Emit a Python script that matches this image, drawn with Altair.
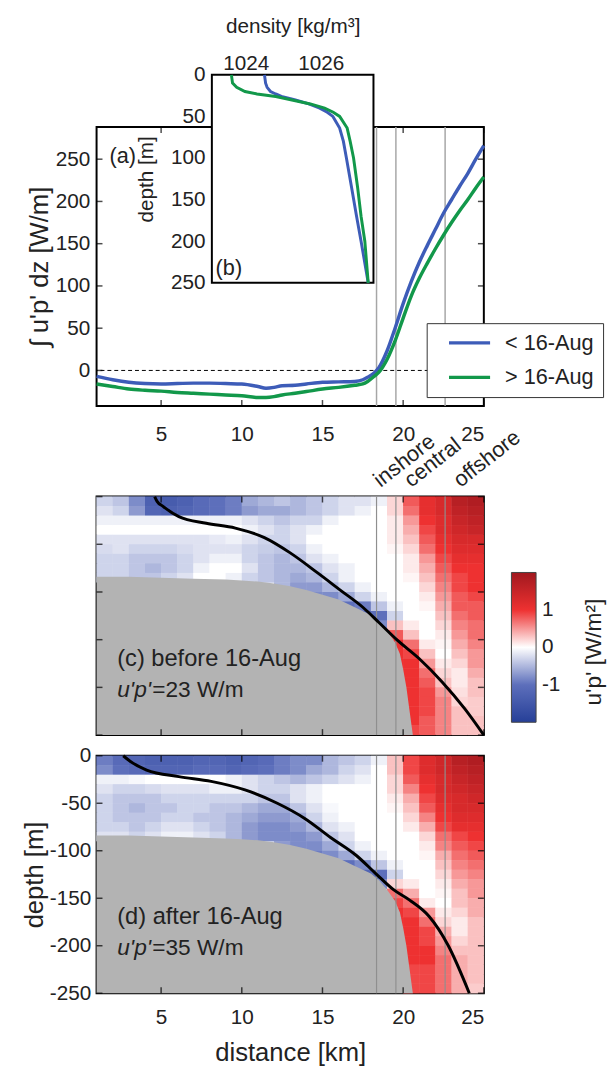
import altair as alt
import pandas as pd

FONT = "Liberation Sans"
TXT = "#222222"

# ---------------- data ----------------
PERIODS = ["< 16-Aug", "> 16-Aug"]
PERIOD_COLORS = ["#3d5cb8", "#12984a"]

# (a) depth-integrated flux vs distance
KM_A = [1, 2, 3, 4, 5, 6, 7, 8, 9, 10, 11, 11.5, 12, 12.5, 13.3, 14, 15, 16, 17,
        17.5, 17.8, 18.2, 18.5, 19, 19.5, 20, 20.5, 21, 21.5, 22, 22.5, 23, 23.5,
        24, 24.5, 25]
FLUX_BEFORE = [-7, -11, -14, -15.5, -16, -15.5, -15, -15, -15.5, -16, -19, -21, -20,
               -18, -17.5, -16, -14, -13.5, -13, -11, -8, -3, 3.5, 23, 50, 79, 105,
               128, 148, 167, 186, 202, 218, 233, 250, 266]
FLUX_AFTER = [-16, -19, -22, -23.5, -24.5, -26, -27, -28, -29, -30, -32, -32, -31,
              -29, -27, -25, -22, -20, -17.5, -16, -13, -7, -2, 13, 35, 62, 88,
              109, 127, 144, 160, 175, 189, 202, 216, 229]

# (b) density profiles
DEPTH_B = [0, 10, 15, 20, 23, 26, 30, 35, 40, 45, 50, 64, 80, 100, 136, 170, 200, 250]
RHO_BEFORE = [1024.5, 1024.53, 1024.57, 1024.66, 1024.8, 1024.95, 1025.3, 1025.68,
              1025.97, 1026.17, 1026.32, 1026.5, 1026.6, 1026.68, 1026.82, 1026.95,
              1027.07, 1027.26]
RHO_AFTER = [1023.62, 1023.65, 1023.76, 1023.98, 1024.3, 1024.8, 1025.2, 1025.72,
             1026.1, 1026.33, 1026.5, 1026.7, 1026.78, 1026.87, 1026.98, 1027.07,
             1027.17, 1027.26]
RHO_DOMAIN = [1023.1, 1027.4]
DEPTH_DOMAIN_B = [0, 250]

REGION_KM = [18.35, 19.55, 22.6]
REGION_LABELS = ["inshore", "central", "offshore"]
REGION_LABEL_KM = [18.6, 20.5, 23.55]

# bathymetry (depth of sea floor, m)
BATHY_KM = [1, 3, 5, 7, 9, 10, 11, 12, 13, 14, 15, 16, 17, 18, 18.5, 19, 19.5, 19.8,
            20, 20.2, 20.4, 20.6]
BATHY_DEPTH = [84, 84, 85, 86, 87, 88, 89, 91, 94, 98, 103, 108, 116, 124, 131, 141,
               153, 165, 181, 200, 225, 250]

# black density-interface curves
CURVE_C_KM = [4.6, 4.75, 5.1, 6.1, 7.8, 9.6, 11.4, 13.0, 14.7, 16.1, 17.5, 18.5, 19.6,
              21.0, 22.4, 23.8, 25.0]
CURVE_C_DEPTH = [0, 5, 10, 21, 28, 33, 43, 59, 80, 98, 116, 132, 150, 170, 194, 222, 250]
CURVE_D_KM = [2.65, 3.1, 4.1, 6.1, 8.1, 10.2, 12.2, 13.9, 15.5, 17.1, 18.3, 19.4, 20.4,
              21.6, 22.8, 24.1]
CURVE_D_DEPTH = [0, 6, 15, 22, 27, 36, 50, 66, 86, 105, 124, 141, 152, 169, 200, 250]

# gridded u'p' (W/m^2): rows = 10 m depth bins, columns = 1 km bins
COL_EDGES = [1, 2, 3, 4, 5, 6, 7, 8, 9, 10, 11, 12, 13, 14, 15, 16, 17, 18, 19, 20,
             21, 22, 23, 24, 25]
ROW_EDGES = [0, 10, 20, 30, 40, 50, 60, 70, 80, 90, 100, 110, 120, 130, 140, 150, 160,
             170, 180, 190, 200, 210, 220, 230, 240, 250]
N = None
FLUX_C = [
    [-0.3, -0.4, -0.8, -1.3, -1.4, -1.3, -1.1, -1.0, -0.9, -0.6, -0.5, -0.4, -0.5, -0.4, -0.3, -0.2, -0.2, -0.1, 0.2, 0.8, 1.1, 1.3, 1.7, 1.8],
    [-0.2, -0.3, -0.7, -1.2, -1.3, -1.2, -1.1, -1.0, -0.9, -0.7, -0.6, -0.6, -0.5, -0.4, -0.3, -0.2, -0.1, 0.0, 0.2, 0.7, 1.1, 1.3, 1.6, 1.7],
    [-0.1, -0.1, -0.1, -0.1, -0.1, -0.1, -0.1, -0.1, -0.1, -0.2, -0.3, -0.4, -0.3, -0.3, -0.1, 0.0, 0.0, 0.0, 0.1, 0.5, 1.0, 1.2, 1.5, 1.6],
    [0.0, 0.0, 0.0, 0.0, 0.0, 0.0, 0.0, 0.0, 0.0, -0.1, -0.2, -0.3, -0.2, -0.1, 0.0, 0.0, 0.0, 0.0, 0.1, 0.4, 0.9, 1.2, 1.4, 1.5],
    [-0.2, -0.2, -0.2, -0.2, -0.2, -0.2, -0.2, -0.15, -0.1, -0.2, -0.3, -0.3, -0.2, 0.0, 0.0, 0.0, 0.0, 0.0, 0.1, 0.3, 0.8, 1.1, 1.3, 1.3],
    [-0.25, -0.2, -0.3, -0.3, -0.3, -0.25, -0.2, -0.2, -0.2, -0.3, -0.35, -0.4, -0.3, -0.1, 0.0, 0.0, 0.0, 0.0, 0.05, 0.2, 0.7, 1.0, 1.2, 1.2],
    [-0.3, -0.3, -0.4, -0.4, -0.4, -0.3, -0.2, -0.1, -0.1, -0.3, -0.4, -0.5, -0.4, -0.2, -0.1, 0.0, 0.0, 0.0, 0.0, 0.1, 0.5, 0.9, 1.1, 1.1],
    [-0.3, -0.3, -0.4, -0.5, -0.4, -0.3, -0.1, 0.0, 0.0, -0.2, -0.4, -0.5, -0.5, -0.4, -0.2, -0.1, 0.0, 0.0, 0.0, 0.1, 0.4, 0.8, 1.0, 1.0],
    [-0.3, -0.3, -0.4, -0.4, -0.3, -0.2, 0.0, 0.0, -0.1, -0.3, -0.4, -0.5, -0.6, -0.5, -0.3, -0.1, 0.0, 0.0, 0.0, 0.05, 0.3, 0.7, 0.9, 1.0],
    [N, N, N, N, N, N, N, N, N, N, N, -0.5, -0.7, -0.7, -0.5, -0.3, -0.1, 0.0, 0.0, 0.0, 0.2, 0.6, 0.9, 1.0],
    [N, N, N, N, N, N, N, N, N, N, N, N, N, -0.8, -0.8, -0.6, -0.3, -0.1, 0.0, 0.0, 0.1, 0.5, 0.8, 0.9],
    [N, N, N, N, N, N, N, N, N, N, N, N, N, N, N, -1.0, -0.9, -0.4, -0.1, 0.0, 0.05, 0.4, 0.8, 0.8],
    [N, N, N, N, N, N, N, N, N, N, N, N, N, N, N, N, -1.2, -1.0, -0.3, 0.0, 0.0, 0.3, 0.7, 0.8],
    [N, N, N, N, N, N, N, N, N, N, N, N, N, N, N, N, N, -0.8, 0.3, 0.1, 0.0, 0.2, 0.6, 0.7],
    [N, N, N, N, N, N, N, N, N, N, N, N, N, N, N, N, N, N, 0.8, 0.3, 0.0, 0.1, 0.5, 0.7],
    [N, N, N, N, N, N, N, N, N, N, N, N, N, N, N, N, N, N, 1.0, 0.7, 0.1, 0.05, 0.4, 0.6],
    [N, N, N, N, N, N, N, N, N, N, N, N, N, N, N, N, N, N, 1.0, 0.9, 0.3, 0.0, 0.3, 0.5],
    [N, N, N, N, N, N, N, N, N, N, N, N, N, N, N, N, N, N, 1.0, 1.0, 0.5, 0.1, 0.2, 0.5],
    [N, N, N, N, N, N, N, N, N, N, N, N, N, N, N, N, N, N, 1.0, 1.0, 0.7, 0.2, 0.1, 0.4],
    [N, N, N, N, N, N, N, N, N, N, N, N, N, N, N, N, N, N, N, 1.0, 0.8, 0.3, 0.1, 0.3],
    [N, N, N, N, N, N, N, N, N, N, N, N, N, N, N, N, N, N, N, 1.0, 0.9, 0.5, 0.15, 0.3],
    [N, N, N, N, N, N, N, N, N, N, N, N, N, N, N, N, N, N, N, 1.0, 0.9, 0.6, 0.2, 0.25],
    [N, N, N, N, N, N, N, N, N, N, N, N, N, N, N, N, N, N, N, 1.0, 0.9, 0.6, 0.3, 0.25],
    [N, N, N, N, N, N, N, N, N, N, N, N, N, N, N, N, N, N, N, 1.0, 0.8, 0.6, 0.3, 0.3],
    [N, N, N, N, N, N, N, N, N, N, N, N, N, N, N, N, N, N, N, 0.9, 0.8, 0.6, 0.3, 0.3],
]
FLUX_D = [
    [-0.9, -1.1, -1.2, -1.3, -1.3, -1.3, -1.2, -1.2, -1.3, -1.2, -1.1, -0.9, -0.8, -0.8, -0.5, -0.4, -0.3, -0.1, 0.3, 0.9, 1.2, 1.4, 1.7, 1.8],
    [-0.8, -1.0, -1.1, -1.2, -1.2, -1.2, -1.1, -1.1, -1.2, -1.1, -1.0, -0.9, -0.8, -0.6, -0.5, -0.3, -0.2, 0.0, 0.3, 0.9, 1.2, 1.4, 1.6, 1.7],
    [-0.1, -0.1, -0.05, 0.0, 0.0, 0.0, 0.0, 0.0, -0.1, -0.2, -0.3, -0.4, -0.5, -0.4, -0.3, -0.2, -0.1, 0.0, 0.2, 0.8, 1.1, 1.3, 1.5, 1.6],
    [-0.2, -0.3, -0.3, -0.25, -0.2, -0.2, -0.2, -0.1, -0.1, -0.2, -0.3, -0.3, -0.2, -0.1, 0.0, 0.0, 0.0, 0.0, 0.2, 0.6, 1.0, 1.3, 1.4, 1.5],
    [-0.3, -0.4, -0.4, -0.4, -0.3, -0.3, -0.3, -0.3, -0.3, -0.3, -0.4, -0.4, -0.2, -0.1, 0.0, 0.0, 0.0, 0.0, 0.1, 0.4, 0.9, 1.2, 1.3, 1.4],
    [-0.3, -0.4, -0.5, -0.4, -0.4, -0.3, -0.3, -0.4, -0.4, -0.5, -0.6, -0.6, -0.4, -0.2, -0.05, 0.0, 0.0, 0.0, 0.05, 0.3, 0.8, 1.1, 1.3, 1.3],
    [-0.3, -0.4, -0.4, -0.4, -0.3, -0.3, -0.4, -0.4, -0.5, -0.6, -0.7, -0.7, -0.6, -0.3, -0.1, 0.0, 0.0, 0.0, 0.0, 0.2, 0.6, 1.0, 1.2, 1.2],
    [-0.3, -0.3, -0.4, -0.3, -0.2, -0.2, -0.3, -0.4, -0.5, -0.7, -0.8, -0.8, -0.7, -0.5, -0.2, -0.1, 0.0, 0.0, 0.0, 0.1, 0.4, 0.9, 1.1, 1.1],
    [-0.2, -0.2, -0.3, -0.2, -0.1, -0.1, -0.2, -0.3, -0.5, -0.7, -0.8, -0.8, -0.8, -0.7, -0.4, -0.2, 0.0, 0.0, 0.0, 0.0, 0.2, 0.7, 0.9, 1.0],
    [N, N, N, N, N, N, N, N, N, N, N, -0.7, -0.8, -0.8, -0.6, -0.3, -0.1, 0.0, 0.0, 0.0, 0.1, 0.6, 0.8, 0.9],
    [N, N, N, N, N, N, N, N, N, N, N, N, N, -0.9, -0.8, -0.6, -0.3, -0.1, 0.0, 0.0, 0.05, 0.4, 0.7, 0.8],
    [N, N, N, N, N, N, N, N, N, N, N, N, N, N, N, -1.0, -0.8, -0.4, -0.1, 0.0, 0.0, 0.3, 0.6, 0.7],
    [N, N, N, N, N, N, N, N, N, N, N, N, N, N, N, N, -1.2, -1.0, -0.3, 0.0, 0.0, 0.2, 0.5, 0.6],
    [N, N, N, N, N, N, N, N, N, N, N, N, N, N, N, N, N, -0.8, 0.2, 0.1, 0.0, 0.1, 0.4, 0.5],
    [N, N, N, N, N, N, N, N, N, N, N, N, N, N, N, N, N, N, 0.7, 0.4, 0.0, 0.05, 0.3, 0.5],
    [N, N, N, N, N, N, N, N, N, N, N, N, N, N, N, N, N, N, 0.9, 0.7, 0.1, 0.0, 0.3, 0.4],
    [N, N, N, N, N, N, N, N, N, N, N, N, N, N, N, N, N, N, 1.0, 0.9, 0.5, 0.1, 0.2, 0.4],
    [N, N, N, N, N, N, N, N, N, N, N, N, N, N, N, N, N, N, 1.0, 1.0, 0.7, 0.2, 0.1, 0.3],
    [N, N, N, N, N, N, N, N, N, N, N, N, N, N, N, N, N, N, 1.0, 1.0, 0.9, 0.4, 0.1, 0.3],
    [N, N, N, N, N, N, N, N, N, N, N, N, N, N, N, N, N, N, N, 1.0, 0.9, 0.5, 0.2, 0.3],
    [N, N, N, N, N, N, N, N, N, N, N, N, N, N, N, N, N, N, N, 1.0, 1.0, 0.6, 0.3, 0.3],
    [N, N, N, N, N, N, N, N, N, N, N, N, N, N, N, N, N, N, N, 1.0, 1.0, 0.7, 0.4, 0.3],
    [N, N, N, N, N, N, N, N, N, N, N, N, N, N, N, N, N, N, N, 0.9, 0.9, 0.7, 0.4, 0.3],
    [N, N, N, N, N, N, N, N, N, N, N, N, N, N, N, N, N, N, N, 0.9, 0.9, 0.7, 0.4, 0.3],
    [N, N, N, N, N, N, N, N, N, N, N, N, N, N, N, N, N, N, N, 0.9, 0.9, 0.7, 0.4, 0.25],
]

CBAR_DOMAIN = [-2, -1, 0, 1, 2]
CBAR_COLORS = ["#263f98", "#5d6fbb", "#ffffff", "#ee3131", "#a0181e"]
CBAR_TICKS = [-1, 0, 1]

KM_TICKS = [5, 10, 15, 20, 25]
DEPTH_TICKS = [0, -50, -100, -150, -200, -250]
FLUX_TICKS = [0, 50, 100, 150, 200, 250]
RHO_TICKS = [1024, 1026]
DEPTH_B_TICKS = [0, 50, 100, 150, 200, 250]

KM_DOMAIN = [1, 25]
FLUX_DOMAIN = [-42, 288]
ELEV_DOMAIN = [-250, 0]

# ---------------- layout constants ----------------
W = 393
H_A, H_C, H_D = 283, 242, 241
TICK_LEN = 6


def inner_ticks(xfield_enc, yfield_enc, xvals, yvals, xdom, ydom):
    """MATLAB-style inward ticks on all four sides, positioned through the scales."""
    dx = pd.DataFrame({"tx": xvals})
    dy = pd.DataFrame({"ty": yvals})
    out = []
    for yv, off in ((ydom[0], -TICK_LEN / 2), (ydom[1], TICK_LEN / 2)):
        out.append(alt.Chart(dx).mark_tick(orient="vertical", size=TICK_LEN, thickness=1.5,
                                           color="black", yOffset=off).encode(
            x=xfield_enc("tx:Q"), y=alt.datum(yv)))
    for xv, off in ((xdom[0], TICK_LEN / 2), (xdom[1], -TICK_LEN / 2)):
        out.append(alt.Chart(dy).mark_tick(orient="horizontal", size=TICK_LEN, thickness=1.5,
                                           color="black", xOffset=off).encode(
            y=yfield_enc("ty:Q"), x=alt.datum(xv)))
    return out


# ---------------- panel (a) + inset (b) ----------------
n = len(KM_A)
dfA = pd.DataFrame({"km": KM_A * 2, "flux": FLUX_BEFORE + FLUX_AFTER,
                    "period": [PERIODS[0]] * n + [PERIODS[1]] * n})
xA = alt.Scale(domain=KM_DOMAIN, nice=False, zero=False)
yA = alt.Scale(domain=FLUX_DOMAIN, nice=False, zero=False)
axA_x = alt.Axis(values=KM_TICKS, title=None, labelPadding=18)
axA_y = alt.Axis(values=FLUX_TICKS, title="\u222b u'p' dz [W/m]", labelPadding=7, titlePadding=3)
XA = lambda f: alt.X(f, scale=xA, axis=axA_x)
YA = lambda f: alt.Y(f, scale=yA, axis=axA_y)

color_lines = alt.Color(
    "period:N", scale=alt.Scale(domain=PERIODS, range=PERIOD_COLORS),
    legend=alt.Legend(title=None, orient="none", legendX=335, legendY=199,
                      symbolType="M-3,0H3", symbolSize=193, symbolStrokeWidth=3.5,
                      labelFontSize=22, labelColor=TXT, padding=9, rowPadding=13,
                      strokeColor="#333333", fillColor="white", labelOffset=25,
                      symbolOffset=23.5))

vl_a = alt.Chart(pd.DataFrame({"km": REGION_KM})).mark_rule(
    color="#a6a6a6", strokeWidth=1.5).encode(x=XA("km:Q"))
zero_a = alt.Chart(pd.DataFrame({"flux": [0]})).mark_rule(
    color="black", strokeWidth=1, strokeDash=[4, 3]).encode(y=YA("flux:Q"))
lines_a = alt.Chart(dfA).mark_line(strokeWidth=3.5, interpolate="monotone").encode(
    x=XA("km:Q"), y=YA("flux:Q"), color=color_lines)
lab_a = alt.Chart(pd.DataFrame({"t": ["(a)"]})).mark_text(
    align="left", baseline="middle", fontSize=22, color=TXT).encode(
    x=alt.datum(1.8), y=alt.datum(254), text="t:N")
# region names, placed just above panel (c) (below the km axis of panel a)
region_labs = alt.Chart(pd.DataFrame({"km": REGION_LABEL_KM, "label": REGION_LABELS})).mark_text(
    angle=322, align="left", baseline="alphabetic", fontSize=22, color=TXT).encode(
    x=XA("km:Q"), y=alt.datum(-139), text="label:N")
ticks_a = inner_ticks(XA, YA, KM_TICKS, FLUX_TICKS, KM_DOMAIN, FLUX_DOMAIN)
layer_a = alt.layer(vl_a, zero_a, lines_a, lab_a, region_labs, *ticks_a)

m = len(DEPTH_B)
dfB = pd.DataFrame({"depth": DEPTH_B * 2, "rho": RHO_BEFORE + RHO_AFTER,
                    "period": [PERIODS[0]] * m + [PERIODS[1]] * m})
xB = alt.Scale(domain=RHO_DOMAIN, range=[117, 281], nice=False, zero=False)
yB = alt.Scale(domain=DEPTH_DOMAIN_B, range=[-53, 158], nice=False, zero=False)
axB_x = alt.Axis(orient="top", offset=53, values=RHO_TICKS, title="density [kg/m\u00b3]",
                 titleFontSize=21, labelPadding=1, titlePadding=17, format="d")
axB_y = alt.Axis(orient="left", offset=-117, values=DEPTH_B_TICKS, title="depth [m]",
                 titleFontSize=21, labelPadding=7, titlePadding=14)
box_b = alt.Chart(pd.DataFrame({"r0": [RHO_DOMAIN[0]], "r1": [RHO_DOMAIN[1]],
                                "d0": [DEPTH_DOMAIN_B[0]], "d1": [DEPTH_DOMAIN_B[1]]})).mark_rect(
    fill="white", stroke="black", strokeWidth=2).encode(
    x=alt.X("r0:Q", scale=xB, axis=axB_x), x2="r1:Q",
    y=alt.Y("d0:Q", scale=yB, axis=axB_y), y2="d1:Q")
lines_b = alt.Chart(dfB).mark_line(strokeWidth=3).encode(
    x=alt.X("rho:Q", scale=xB, axis=axB_x), y=alt.Y("depth:Q", scale=yB, axis=axB_y),
    color=color_lines, order="depth:Q")
lab_b = alt.Chart(pd.DataFrame({"t": ["(b)"]})).mark_text(
    align="left", baseline="middle", fontSize=22, color=TXT).encode(
    x=alt.datum(1023.2), y=alt.datum(232), text="t:N")
layer_b = alt.layer(box_b, lines_b, lab_b)

top = alt.layer(layer_a, layer_b).resolve_scale(
    x="independent", y="independent").properties(width=W, height=H_A)


# ---------------- panels (c), (d) ----------------
def grid_df(grid):
    rows = []
    for r, row in enumerate(grid):
        for j, v in enumerate(row):
            if v is not None:
                rows.append({"x0": COL_EDGES[j], "x1": COL_EDGES[j + 1],
                             "y0": -ROW_EDGES[r], "y1": -ROW_EDGES[r + 1], "v": v})
    return pd.DataFrame(rows)


dfBathy = pd.DataFrame({"km": BATHY_KM, "elev": [-d for d in BATHY_DEPTH]})
CS = alt.Scale(domain=CBAR_DOMAIN, range=CBAR_COLORS, interpolate="rgb")


def section(grid, ckm, cdepth, label1, label2, show_x, legend, height, extra):
    xS = alt.Scale(domain=KM_DOMAIN, nice=False, zero=False)
    yS = alt.Scale(domain=ELEV_DOMAIN, nice=False, zero=False)
    if show_x:
        axx = alt.Axis(values=KM_TICKS, title="distance [km]", labelPadding=14, titlePadding=12)
        axy = alt.Axis(values=DEPTH_TICKS, title="depth [m]", labelPadding=6,
                       titlePadding=2, labelExpr="datum.value + ''")
    else:
        axx = alt.Axis(values=KM_TICKS, title=None, labels=False, minExtent=11, maxExtent=11)
        axy = alt.Axis(values=DEPTH_TICKS, title=None, labels=False)
    X = lambda f: alt.X(f, scale=xS, axis=axx)
    Y = lambda f: alt.Y(f, scale=yS, axis=axy)
    dfg = grid_df(grid)
    # drawn twice so anti-aliased seams between neighbouring cells disappear
    heat = alt.Chart(dfg).mark_rect().encode(
        x=X("x0:Q"), x2="x1:Q", y=Y("y0:Q"), y2="y1:Q",
        color=alt.Color("v:Q", scale=CS, legend=legend))
    heat2 = alt.Chart(dfg).mark_rect().encode(
        x=X("x0:Q"), x2="x1:Q", y=Y("y0:Q"), y2="y1:Q",
        color=alt.Color("v:Q", scale=CS, legend=legend))
    gray = alt.Chart(dfBathy).mark_area(color="#b3b3b3").encode(
        x=X("km:Q"), y=Y("elev:Q"), y2=alt.datum(ELEV_DOMAIN[0]))
    vl = alt.Chart(pd.DataFrame({"km": REGION_KM})).mark_rule(
        color="#8f8f8f", strokeWidth=1.2).encode(x=X("km:Q"))
    curve = alt.Chart(pd.DataFrame({"km": ckm, "elev": [-d for d in cdepth]})).mark_line(
        color="black", strokeWidth=3, interpolate="monotone").encode(
        x=X("km:Q"), y=Y("elev:Q"))
    t1 = alt.Chart(pd.DataFrame({"t": [label1]})).mark_text(
        align="left", baseline="middle", fontSize=24, color=TXT).encode(
        x=alt.datum(2.28), y=alt.datum(-170), text="t:N")
    t2 = alt.Chart(pd.DataFrame({"t": ["u'p'"]})).mark_text(
        align="left", baseline="middle", fontSize=23, fontStyle="italic", color=TXT).encode(
        x=alt.datum(2.28), y=alt.datum(-203), text="t:N")
    t3 = alt.Chart(pd.DataFrame({"t": [label2]})).mark_text(
        align="left", baseline="middle", fontSize=23, color=TXT).encode(
        x=alt.datum(4.45), y=alt.datum(-203), text="t:N")
    ticks = inner_ticks(X, Y, KM_TICKS, DEPTH_TICKS, KM_DOMAIN, ELEV_DOMAIN)
    layers = [heat, heat2, gray, vl, curve, t1, t2, t3] + ticks + extra(X, Y)
    return alt.layer(*layers).properties(width=W, height=height)


def extra_c(X, Y):
    cb_title = alt.Chart(pd.DataFrame({"t": ["u'p' [W/m\u00b2]"]})).mark_text(
        angle=270, align="center", baseline="middle", fontSize=23, color=TXT).encode(
        x=alt.datum(31.85), y=alt.datum(-163), text="t:N")
    return [cb_title]


cbar_legend = alt.Legend(title=None, type="gradient", orient="none", legendX=421,
                         legendY=77, direction="vertical", gradientLength=152,
                         gradientThickness=25, values=CBAR_TICKS, labelFontSize=21,
                         labelOffset=6, gradientStrokeColor="#444444",
                         gradientStrokeWidth=1, labelExpr="datum.value + ''")

panel_c = section(FLUX_C, CURVE_C_KM, CURVE_C_DEPTH, "(c) before 16-Aug", "=23 W/m",
                  False, cbar_legend, H_C, extra_c)
panel_d = section(FLUX_D, CURVE_D_KM, CURVE_D_DEPTH, "(d) after 16-Aug", "=35 W/m",
                  True, None, H_D, lambda X, Y: [])

chart = alt.vconcat(top, panel_c, panel_d, spacing=-3).resolve_scale(
    color="independent").properties(
    padding={"left": 20, "top": 7, "right": 0, "bottom": 0}
).configure_view(stroke="black", strokeWidth=2).configure_axis(
    labelFont=FONT, titleFont=FONT, labelFontSize=21, titleFontSize=26,
    labelColor=TXT, titleColor=TXT, titleFontWeight="normal", grid=False,
    domain=False, ticks=False
).configure_legend(labelFont=FONT, labelColor=TXT).configure_text(font=FONT)

chart.save("out.html", embed_options={"renderer": "svg", "actions": False})
